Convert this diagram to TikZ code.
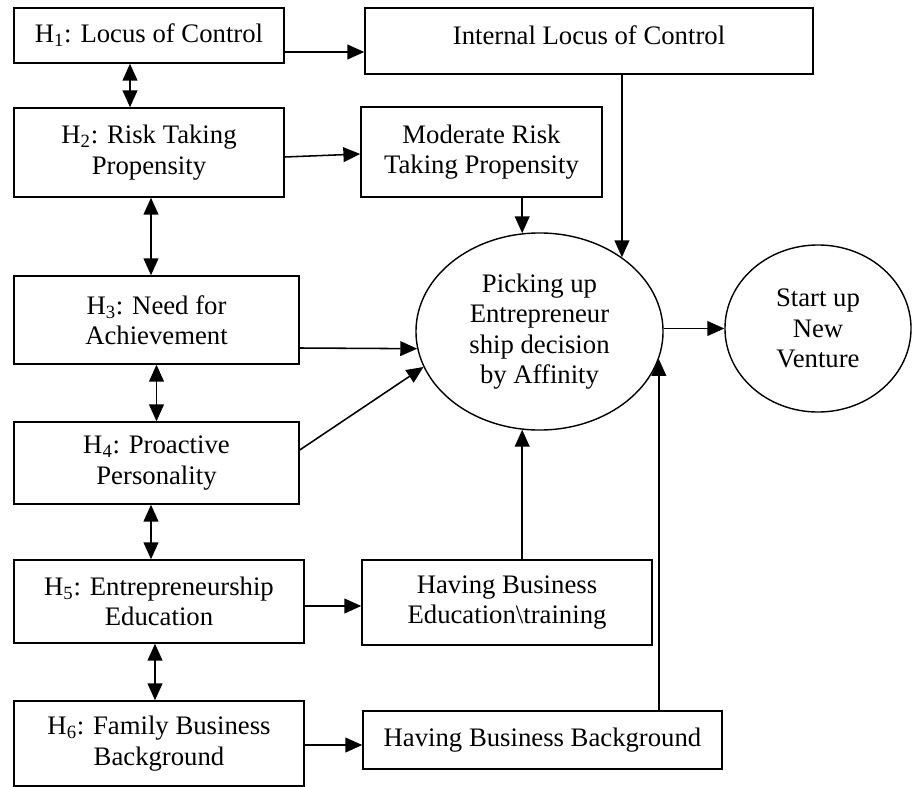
\documentclass[tikz,border=0pt]{standalone}
\usepackage{fontspec}
\setmainfont{Liberation Serif}
\usetikzlibrary{arrows.meta,positioning,calc,shapes.geometric}

\begin{document}
\begin{tikzpicture}[
    x=0.025cm, y=-0.025cm,
    font=\fontsize{19}{21.7}\selectfont,
    box/.style={draw, line width=1pt, align=center, inner sep=2pt},
    oval/.style={draw, ellipse, line width=1pt, align=center, inner sep=0pt},
    flow/.style={-{Triangle[length=12pt,width=10.5pt]}, line width=1.1pt},
    pair/.style={{Triangle[length=12pt,width=10.5pt]}-{Triangle[length=12pt,width=10.5pt]}, line width=1.1pt}
  ]
    \useasboundingbox (0,0) rectangle (912,787);

    % hypotheses, left column
    \node[box, minimum width=6.75cm, minimum height=1.375cm] (H1) at (149,35.5) {H\textsubscript{1}: Locus of Control};
    \node[box, minimum width=6.75cm, minimum height=2.225cm] (H2) at (149,152.5) {H\textsubscript{2}: Risk Taking\\Propensity};
    \node[box, minimum width=7.125cm, minimum height=2.2cm] (H3) at (156.5,320) {H\textsubscript{3}: Need for\\Achievement};
    \node[box, minimum width=7.125cm, minimum height=2.05cm] (H4) at (156.5,463) {H\textsubscript{4}: Proactive\\Personality};
    \node[box, minimum width=7.25cm, minimum height=2.075cm] (H5) at (159,601.5) {H\textsubscript{5}: Entrepreneurship\\Education};
    \node[box, minimum width=7.25cm, minimum height=2.125cm] (H6) at (159,743.5) {H\textsubscript{6}: Family Business\\Background};

    % traits, middle column
    \node[box, minimum width=11.2cm, minimum height=1.65cm, text depth=0.9em] (Internal) at (589,41) {Internal Locus of Control};
    \node[box, minimum width=6.025cm, minimum height=2.25cm] (Moderate) at (481.5,152) {Moderate Risk\\Taking Propensity};
    \node[box, minimum width=7.25cm, minimum height=2.125cm] (Training) at (507,602.5) {Having Business\\Education\textbackslash training};
    \node[box, minimum width=8.975cm, minimum height=1.45cm] (Family) at (542.5,740) {Having Business Background};

    \node[oval, minimum width=6.175cm, minimum height=4.925cm] (Picking) at (539.5,331.5) {Picking up\\Entrepreneur\\ship decision\\by Affinity};
    \node[oval, minimum width=4.65cm, minimum height=4.175cm] (Start) at (818,328.5) {Start up\\New\\Venture};

    \draw[pair] ($(H1.south)+(-19,0)$) -- ($(H2.north)+(-19,0)$);
    \draw[pair] ($(H2.south)+(2,0)$) -- ($(H3.north)+(-5.5,0)$);
    \draw[pair] (H3.south) -- (H4.north);
    \draw[pair] ($(H4.south)+(-5.5,0)$) -- ($(H5.north)+(-8,0)$);
    \draw[pair] ($(H5.south)+(-4,0)$) -- ($(H6.north)+(-4,0)$);

    \draw[flow] ($(H1.east)+(0,16.5)$) -- ($(Internal.west)+(0,11)$);
    \draw[flow] ($(H2.east)+(0,4.5)$) -- ($(Moderate.west)+(0,2)$);
    \draw[flow] ($(H3.east)+(0,28)$) -- (Picking.188);
    \draw[flow] ($(H4.east)+(0,-13)$) -- (Picking.197);
    \draw[flow] ($(H5.east)+(0,4.5)$) -- ($(Training.west)+(0,3.5)$);
    \draw[flow] ($(H6.east)+(0,1.5)$) -- ($(Family.west)+(0,5)$);

    \draw[flow] (Internal.south -| Picking.42) -- (Picking.42);
    \draw[flow] (Moderate.south -| Picking.100) -- (Picking.100);
    \draw[flow] (Training.north -| Picking.260) -- (Picking.260);
    \draw[flow] (Family.north -| Picking.-13) -- (Picking.-13);
    \draw[flow] (Start.west -| Picking.east) -- (Start.west);
  \end{tikzpicture}
\end{document}
